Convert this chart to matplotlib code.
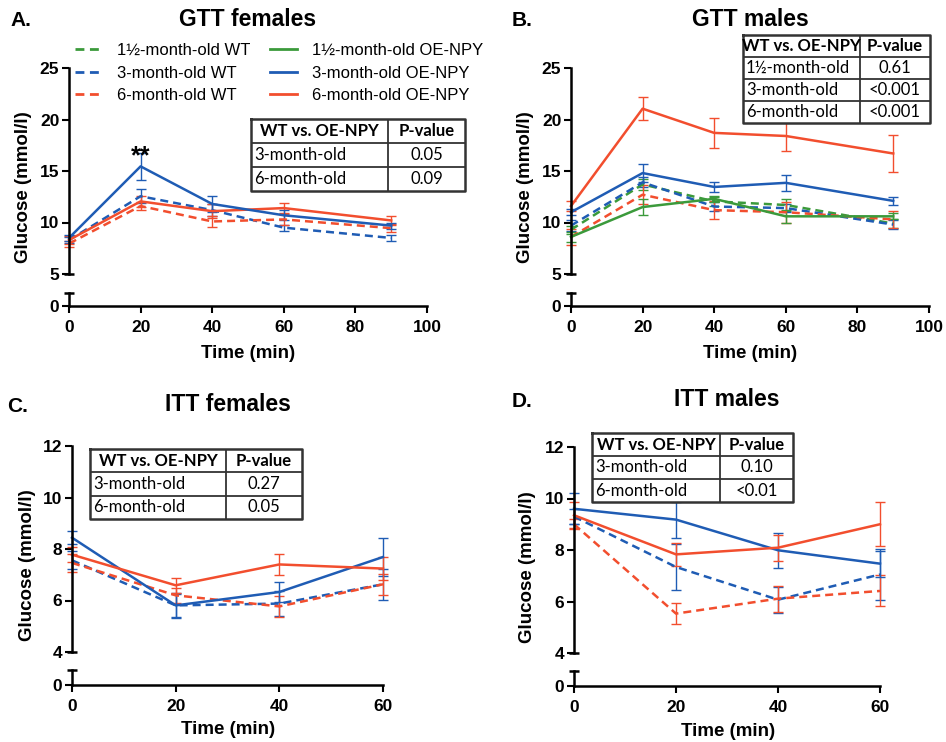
import matplotlib
matplotlib.use('Agg')
import matplotlib.pyplot as plt
from matplotlib.lines import Line2D

plt.rcParams['font.family'] = ['Liberation Sans', 'DejaVu Sans']

W, H = 946, 742

GREEN = '#3b9a3b'
BLUE = '#1f5cb4'
RED = '#f24e2e'

gtt_time = [0, 20, 40, 60, 90]
itt_time = [0, 20, 40, 60]

# GTT females
gttf_wt3 = [8.3, 12.55, 11.2, 9.5, 8.5]
gttf_wt3_err = [0.3, 0.7, 0.6, 0.3, 0.3]
gttf_oe3 = [8.5, 15.45, 11.8, 10.7, 9.7]
gttf_oe3_err = [0.3, 1.3, 0.8, 0.5, 0.3]
gttf_wt6 = [7.95, 11.6, 10.1, 10.3, 9.45]
gttf_wt6_err = [0.3, 0.4, 0.5, 0.5, 0.4]
gttf_oe6 = [8.3, 12.05, 11.1, 11.4, 10.2]
gttf_oe6_err = [0.4, 0.5, 0.7, 0.5, 0.4]

# GTT males
gttm_wt15 = [9.3, 13.7, 12.05, 11.7, 9.9]
gttm_wt15_err = [0.4, 0.5, 0.4, 0.6, 0.4]
gttm_oe15 = [8.6, 11.5, 12.3, 10.6, 10.6]
gttm_oe15_err = [0.5, 0.8, 0.3, 0.6, 0.3]
gttm_wt3 = [9.7, 13.9, 11.55, 11.4, 9.8]
gttm_wt3_err = [0.5, 0.5, 0.4, 0.4, 0.4]
gttm_oe3 = [11.0, 14.8, 13.45, 13.85, 12.1]
gttm_oe3_err = [0.3, 0.9, 0.5, 0.75, 0.4]
gttm_wt6 = [8.6, 12.7, 11.2, 11.0, 10.3]
gttm_wt6_err = [0.8, 0.9, 0.9, 1.0, 0.8]
gttm_oe6 = [11.6, 21.05, 18.7, 18.4, 16.7]
gttm_oe6_err = [0.5, 1.1, 1.45, 1.5, 1.8]

# ITT females
ittf_wt3 = [7.56, 5.81, 5.88, 6.63]
ittf_wt3_err = [0.35, 0.45, 0.5, 0.6]
ittf_oe3 = [8.44, 5.81, 6.33, 7.69]
ittf_oe3_err = [0.25, 0.5, 0.4, 0.75]
ittf_wt6 = [7.46, 6.2, 5.77, 6.63]
ittf_wt6_err = [0.35, 0.3, 0.4, 0.4]
ittf_oe6 = [7.78, 6.59, 7.4, 7.24]
ittf_oe6_err = [0.3, 0.3, 0.4, 0.45]

# ITT males
ittm_wt3 = [9.3, 7.34, 6.07, 7.05]
ittm_wt3_err = [0.3, 0.9, 0.5, 1.0]
ittm_oe3 = [9.6, 9.18, 7.99, 7.47]
ittm_oe3_err = [0.6, 0.7, 0.67, 0.5]
ittm_wt6 = [9.0, 5.53, 6.11, 6.41]
ittm_wt6_err = [0.2, 0.4, 0.5, 0.6]
ittm_oe6 = [9.35, 7.83, 8.09, 9.0]
ittm_oe6_err = [0.5, 0.45, 0.5, 0.85]

legend_labels = ['1½-month-old WT', '3-month-old WT', '6-month-old WT',
                 '1½-month-old OE-NPY', '3-month-old OE-NPY', '6-month-old OE-NPY']

table_header = ['WT vs. OE-NPY', 'P-value']
table_a = [['3-month-old', '0.05'], ['6-month-old', '0.09']]
table_b = [['1½-month-old', '0.61'], ['3-month-old', '<0.001'], ['6-month-old', '<0.001']]
table_c = [['3-month-old', '0.27'], ['6-month-old', '0.05']]
table_d = [['3-month-old', '0.10'], ['6-month-old', '<0.01']]

DASH = (0, (3.2, 2.0))

fig = plt.figure(figsize=(W / 100, H / 100), dpi=100)


def fx(px):
    return px / W


def fy(py):
    return 1 - py / H


def draw_series(ax, x, series):
    for y, err, color, dashed in series:
        eb = ax.errorbar(x, y, yerr=err, color=color, lw=1.8,
                         ls=DASH if dashed else '-', capsize=3.6,
                         elinewidth=1.0, capthick=1.0)
        for art in eb.get_children():
            art.set_clip_on(False)


def make_panel(box, xlim, xticks, ylim, yticks, x, series):
    left, right, top, ubot, ltop, lbot = box
    ax = fig.add_axes([fx(left), fy(ubot), fx(right) - fx(left), fy(top) - fy(ubot)])
    axl = fig.add_axes([fx(left), fy(lbot), fx(right) - fx(left), fy(ltop) - fy(lbot)])
    for a in (ax, axl):
        a.set_xlim(*xlim)
        a.patch.set_visible(False)
        a.spines['top'].set_visible(False)
        a.spines['right'].set_visible(False)
        a.spines['left'].set_linewidth(1.8)
        a.spines['bottom'].set_linewidth(1.8)
        a.tick_params(direction='out', length=5, width=1.5, labelsize=12.5, pad=2)
    ax.spines['bottom'].set_visible(False)
    ax.set_xticks([])
    ax.set_ylim(*ylim)
    ax.set_yticks(yticks)
    axl.set_ylim(0, 1)
    axl.set_yticks([0])
    axl.set_xticks(xticks)
    axl.tick_params(axis='x', pad=5)
    for lab in ax.get_yticklabels() + axl.get_yticklabels() + axl.get_xticklabels():
        lab.set_fontweight('bold')
    # break caps
    ax.plot([0], [0], marker='_', ms=7.5, mew=1.8, color='k',
            transform=ax.transAxes, clip_on=False)
    axl.plot([0], [1], marker='_', ms=7.5, mew=1.8, color='k',
             transform=axl.transAxes, clip_on=False)
    draw_series(ax, x, series)
    return ax


def draw_table(x0, y0, w1, w2, rh, rows):
    nrow = len(rows) + 1
    tw, th = w1 + w2, rh * nrow
    tax = fig.add_axes([fx(x0), fy(y0 + th), fx(tw), th / H])
    tax.set_xlim(0, tw)
    tax.set_ylim(th, 0)
    tax.axis('off')
    tax.fill_between([0, tw], 0, th, color='white', zorder=1)
    ec = '#333333'
    tax.plot([0, tw, tw, 0, 0], [0, 0, th, th, 0], color=ec, lw=1.8, zorder=3,
             clip_on=False)
    for i in range(1, nrow):
        tax.plot([0, tw], [i * rh, i * rh], color=ec, lw=1.3, zorder=3)
    tax.plot([w1, w1], [0, th], color=ec, lw=1.3, zorder=3)
    tfont = ['Lato', 'DejaVu Sans']
    fs = 12
    tax.text(w1 / 2, rh / 2, table_header[0], ha='center', va='center',
             fontsize=fs, fontweight='bold', family=tfont, zorder=4)
    tax.text(w1 + w2 / 2, rh / 2, table_header[1], ha='center', va='center',
             fontsize=fs, fontweight='bold', family=tfont, zorder=4)
    for i, (lab, p) in enumerate(rows):
        yc = rh * (i + 1.5)
        tax.text(3, yc, lab, ha='left', va='center', fontsize=fs,
                 family=tfont, zorder=4)
        tax.text(w1 + w2 / 2, yc, p, ha='center', va='center', fontsize=fs,
                 family=tfont, zorder=4)


# Panel A
ax_a = make_panel((69, 427, 68, 274, 293, 306), (0, 100), [0, 20, 40, 60, 80, 100],
                  (5, 25), [5, 10, 15, 20, 25], gtt_time,
                  [(gttf_wt3, gttf_wt3_err, BLUE, True),
                   (gttf_wt6, gttf_wt6_err, RED, True),
                   (gttf_oe6, gttf_oe6_err, RED, False),
                   (gttf_oe3, gttf_oe3_err, BLUE, False)])
ax_a.text(20, 15.7, '**', ha='center', va='baseline', fontsize=18, fontweight='bold')

# Panel B
make_panel((571, 929, 68, 274, 293, 306), (0, 100), [0, 20, 40, 60, 80, 100],
           (5, 25), [5, 10, 15, 20, 25], gtt_time,
           [(gttm_wt15, gttm_wt15_err, GREEN, True),
            (gttm_wt3, gttm_wt3_err, BLUE, True),
            (gttm_wt6, gttm_wt6_err, RED, True),
            (gttm_oe15, gttm_oe15_err, GREEN, False),
            (gttm_oe3, gttm_oe3_err, BLUE, False),
            (gttm_oe6, gttm_oe6_err, RED, False)])

# Panel C
make_panel((72, 383, 446, 652, 670, 685), (0, 60), [0, 20, 40, 60],
           (4, 12), [4, 6, 8, 10, 12], itt_time,
           [(ittf_wt3, ittf_wt3_err, BLUE, True),
            (ittf_wt6, ittf_wt6_err, RED, True),
            (ittf_oe3, ittf_oe3_err, BLUE, False),
            (ittf_oe6, ittf_oe6_err, RED, False)])

# Panel D
make_panel((574, 880, 447, 653, 671, 686), (0, 60), [0, 20, 40, 60],
           (4, 12), [4, 6, 8, 10, 12], itt_time,
           [(ittm_wt3, ittm_wt3_err, BLUE, True),
            (ittm_wt6, ittm_wt6_err, RED, True),
            (ittm_oe3, ittm_oe3_err, BLUE, False),
            (ittm_oe6, ittm_oe6_err, RED, False)])

# titles, panel letters and axis labels
for letter, lx, title, tx, ty in [('A.', 10, 'GTT females', 248, 19),
                                  ('B.', 512, 'GTT males', 750, 19),
                                  ('C.', 7, 'ITT females', 228, 404),
                                  ('D.', 512, 'ITT males', 727, 399)]:
    fig.text(fx(lx), fy(ty + 2), letter, ha='left', va='center', fontsize=15, fontweight='bold')
    fig.text(fx(tx), fy(ty), title, ha='center', va='center', fontsize=16.5, fontweight='bold')

for cx, cy in [(248, 353), (750, 353), (228, 729), (728, 731)]:
    fig.text(fx(cx), fy(cy), 'Time (min)', ha='center', va='center',
             fontsize=13.5, fontweight='bold')

for gx, gy in [(24, 187), (525, 187), (27, 565), (528, 567)]:
    fig.text(fx(gx), fy(gy), 'Glucose (mmol/l)', ha='center', va='center',
             rotation=90, fontsize=13.5, fontweight='bold')

# legend
colors = [GREEN, BLUE, RED, GREEN, BLUE, RED]
handles = [Line2D([], [], color=c, lw=2.0, ls=DASH if i < 3 else '-')
           for i, c in enumerate(colors)]
fig.legend(handles, legend_labels, ncol=2, loc='upper left',
           bbox_to_anchor=(fx(75), fy(43)), frameon=False, fontsize=12,
           handlelength=1.6, handletextpad=0.9, columnspacing=1.2,
           labelspacing=0.45, borderaxespad=0, borderpad=0)

# p-value tables
draw_table(251, 119, 137, 77, 24, table_a)
draw_table(743, 35, 117, 70, 22, table_b)
draw_table(90, 449, 136, 76, 23.3, table_c)
draw_table(592, 433, 128, 73, 23, table_d)

fig.savefig('out.png', dpi=100)
